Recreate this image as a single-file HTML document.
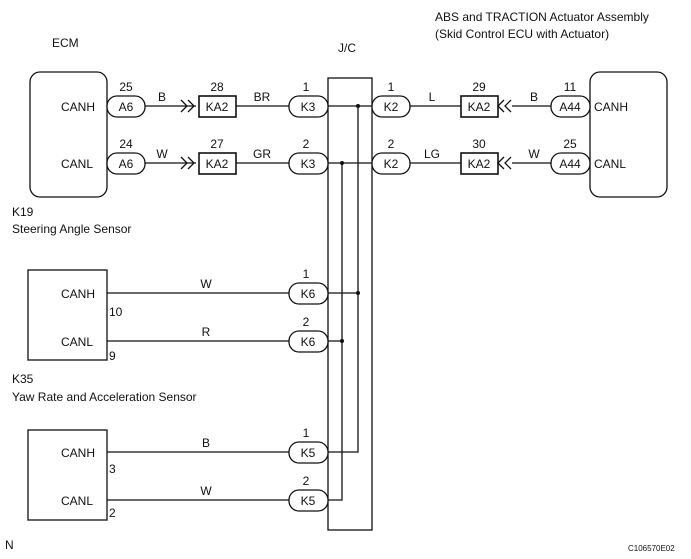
<!DOCTYPE html>
<html><head><style>body{margin:0;background:#fff}svg{display:block}text{font-family:"Liberation Sans",sans-serif;font-size:12px;fill:#111}</style></head><body>
<svg width="691" height="559" viewBox="0 0 691 559" xmlns="http://www.w3.org/2000/svg">
<g stroke="#111" stroke-width="1.3" fill="none">
<rect x="30" y="72" width="77" height="125" rx="10"/>
<rect x="590" y="72" width="77" height="125" rx="10"/>
<rect x="328" y="78" width="44" height="452"/>
<rect x="28" y="270" width="79" height="90"/>
<rect x="28" y="430" width="79" height="90"/>
<!-- wires -->
<path d="M145 106H196M236 106H290M410 106H461M512 106H551"/>
<path d="M145 163H196M236 163H290M410 163H461M512 163H551"/>
<path d="M328 106H372M328 163H372"/>
<path d="M358 106V452H328M342 163V500H328"/>
<path d="M328 293H358M328 341H342"/>
<path d="M107 293H290M107 341H290M107 452H290M107 500H290"/>
<!-- chevrons -->
<path d="M181 100l6 6-6 6M188 100l6 6-6 6M181 157l6 6-6 6M188 157l6 6-6 6"/>
<path d="M511 100l-6 6 6 6M504 100l-6 6 6 6M511 157l-6 6 6 6M504 157l-6 6 6 6"/>
<rect x="199" y="96" width="37" height="21" stroke-width="1.6"/>
<rect x="199" y="153" width="37" height="21" stroke-width="1.6"/>
<rect x="461" y="96" width="37" height="21" stroke-width="1.6"/>
<rect x="461" y="153" width="37" height="21" stroke-width="1.6"/>
</g>
<g stroke="#111" stroke-width="1.3" fill="#fff">
<rect x="107" y="96" width="38" height="21" rx="10"/>
<rect x="107" y="153" width="38" height="21" rx="10"/>
<rect x="289" y="96" width="39" height="21" rx="10"/>
<rect x="289" y="153" width="39" height="21" rx="10"/>
<rect x="372" y="96" width="38" height="21" rx="10"/>
<rect x="372" y="153" width="38" height="21" rx="10"/>
<rect x="551" y="96" width="39" height="21" rx="10"/>
<rect x="551" y="153" width="39" height="21" rx="10"/>
<rect x="289" y="283" width="39" height="21" rx="10"/>
<rect x="289" y="331" width="39" height="21" rx="10"/>
<rect x="289" y="442" width="39" height="21" rx="10"/>
<rect x="289" y="490" width="39" height="21" rx="10"/>
</g>
<g fill="#111"><circle cx="358" cy="106" r="2"/><circle cx="342" cy="163" r="2"/><circle cx="358" cy="293" r="2"/><circle cx="342" cy="341" r="2"/></g>
<text x="52" y="47">ECM</text>
<text x="338" y="52">J/C</text>
<text x="435" y="21">ABS and TRACTION Actuator Assembly</text>
<text x="435" y="38">(Skid Control ECU with Actuator)</text>
<text x="12" y="216">K19</text><text x="12" y="233">Steering Angle Sensor</text>
<text x="12" y="383">K35</text><text x="12" y="401">Yaw Rate and Acceleration Sensor</text>
<text x="5" y="549">N</text>
<text x="628" y="551" style="font-size:8px">C106570E02</text>
<text x="61" y="111">CANH</text><text x="61" y="168">CANL</text>
<text x="594" y="111">CANH</text><text x="594" y="168">CANL</text>
<text x="61" y="298">CANH</text><text x="61" y="346">CANL</text>
<text x="61" y="457">CANH</text><text x="61" y="505">CANL</text>
<text x="109" y="316">10</text><text x="109" y="360">9</text>
<text x="109" y="473">3</text><text x="109" y="517">2</text>
<g text-anchor="middle">
<text x="126" y="111">A6</text><text x="126" y="168">A6</text>
<text x="126" y="91">25</text><text x="126" y="148">24</text>
<text x="162" y="101">B</text><text x="162" y="158">W</text>
<text x="217" y="111">KA2</text><text x="217" y="168">KA2</text>
<text x="217" y="91">28</text><text x="217" y="148">27</text>
<text x="262" y="101">BR</text><text x="262" y="158">GR</text>
<text x="308" y="111">K3</text><text x="308" y="168">K3</text>
<text x="306" y="91">1</text><text x="306" y="148">2</text>
<text x="391" y="111">K2</text><text x="391" y="168">K2</text>
<text x="391" y="91">1</text><text x="391" y="148">2</text>
<text x="432" y="101">L</text><text x="432" y="158">LG</text>
<text x="479" y="111">KA2</text><text x="479" y="168">KA2</text>
<text x="479" y="91">29</text><text x="479" y="148">30</text>
<text x="534" y="101">B</text><text x="534" y="158">W</text>
<text x="570" y="111">A44</text><text x="570" y="168">A44</text>
<text x="570" y="91">11</text><text x="570" y="148">25</text>
<text x="308" y="298">K6</text><text x="308" y="346">K6</text>
<text x="306" y="278">1</text><text x="306" y="326">2</text>
<text x="206" y="288">W</text><text x="206" y="336">R</text>
<text x="308" y="457">K5</text><text x="308" y="505">K5</text>
<text x="306" y="437">1</text><text x="306" y="485">2</text>
<text x="206" y="447">B</text><text x="206" y="495">W</text>
</g>
</svg>
</body></html>
